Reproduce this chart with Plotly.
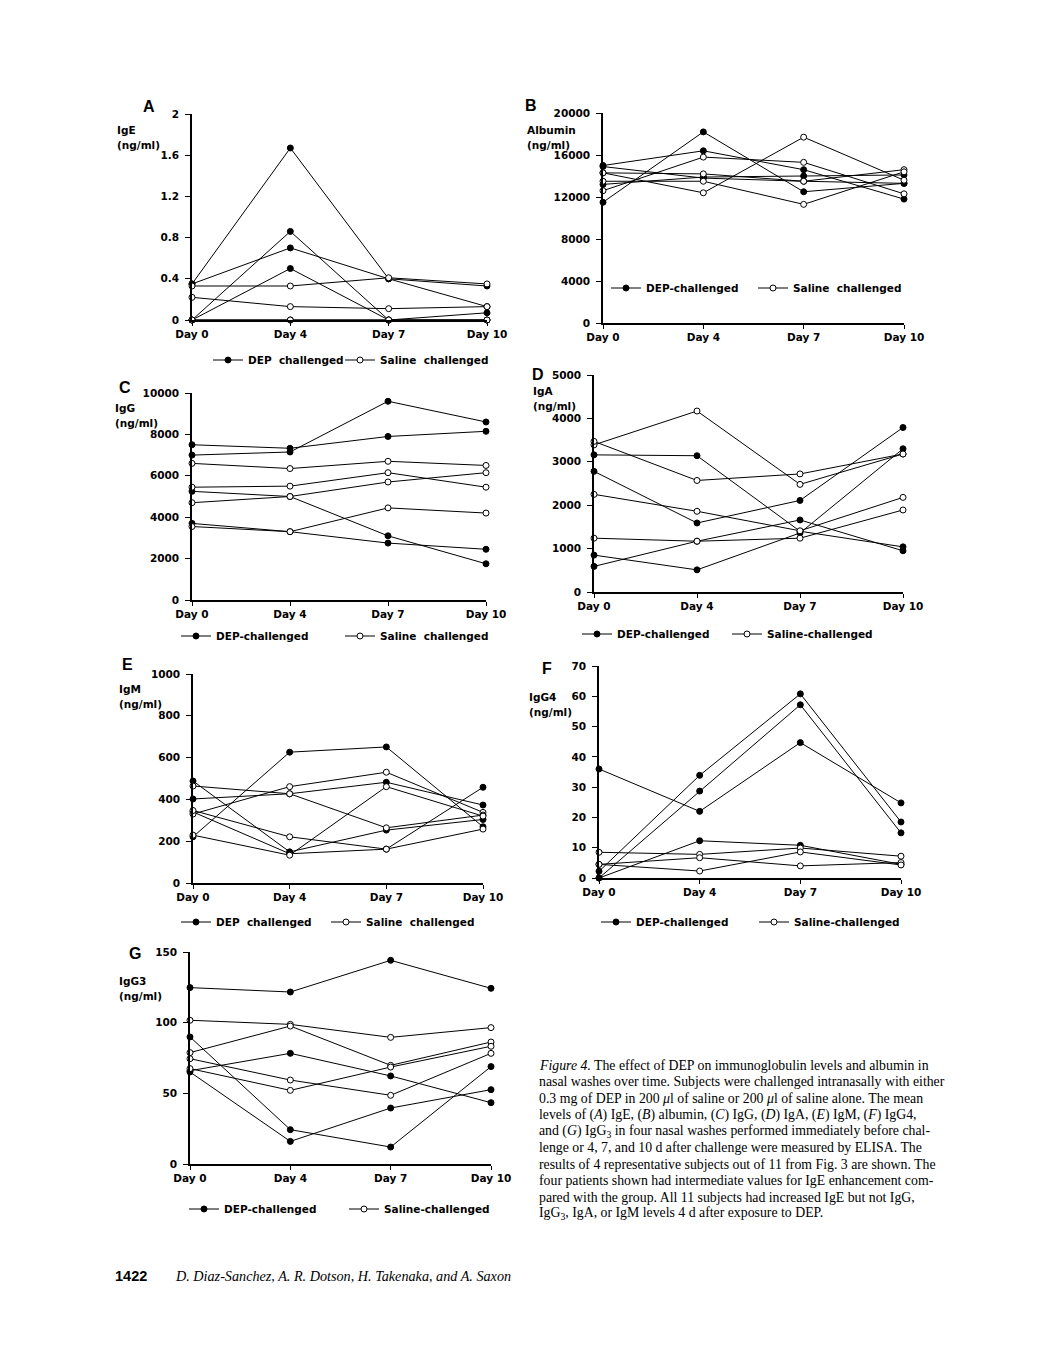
import plotly.graph_objects as go

W, H = 1046, 1369

DAYS = ["Day\u00a00", "Day\u00a04", "Day\u00a07", "Day\u00a010"]

# ---- Panel A: IgE (ng/ml)
IGE_DEP = [[0.35, 1.67, 0.40, 0.33], [0.35, 0.70, 0.40, 0.13],
           [0.0, 0.86, 0.0, 0.07], [0.0, 0.50, 0.0, 0.0]]
IGE_SAL = [[0.33, 0.33, 0.41, 0.35], [0.22, 0.13, 0.11, 0.13],
           [0.0, 0.0, 0.0, 0.0], [0.0, 0.0, 0.0, 0.0]]
IGE_TICKS = [0, 0.4, 0.8, 1.2, 1.6, 2]
IGE_TICKTEXT = ["0", "0.4", "0.8", "1.2", "1.6", "2"]

# ---- Panel B: Albumin (ng/ml)
ALB_DEP = [[11500, 18200, 12500, 13300], [15000, 16400, 14600, 11800],
           [13200, 13900, 14000, 14100], [14900, 13800, 13500, 13300]]
ALB_SAL = [[12600, 15800, 15300, 12300], [14300, 12400, 17700, 13600],
           [14300, 14200, 13500, 14600], [13500, 13500, 11300, 14400]]
ALB_TICKS = [0, 4000, 8000, 12000, 16000, 20000]

# ---- Panel C: IgG (ng/ml)
IGG_DEP = [[7500, 7330, 7900, 8150], [7000, 7150, 9600, 8600],
           [5250, 5000, 3100, 1750], [3700, 3300, 2750, 2450]]
IGG_SAL = [[6600, 6350, 6700, 6500], [5450, 5500, 6150, 5450],
           [4700, 5000, 5700, 6150], [3550, 3300, 4450, 4200]]
IGG_TICKS = [0, 2000, 4000, 6000, 8000, 10000]

# ---- Panel D: IgA (ng/ml)
IGA_DEP = [[2780, 1590, 2110, 3790], [850, 510, 1360, 3300],
           [3160, 3140, 1400, 1040], [590, 1170, 1660, 950]]
IGA_SAL = [[3390, 4170, 2480, 3180], [3470, 2570, 2720, 3180],
           [2250, 1860, 1410, 2180], [1240, 1170, 1240, 1890]]
IGA_TICKS = [0, 1000, 2000, 3000, 4000, 5000]

# ---- Panel E: IgM (ng/ml)
IGM_DEP = [[221, 626, 651, 269], [488, 149, 253, 304],
           [402, 427, 482, 373], [340, 140, 162, 458]]
IGM_SAL = [[330, 461, 530, 338], [464, 427, 264, 325],
           [347, 221, 162, 258], [229, 133, 461, 320]]
IGM_TICKS = [0, 200, 400, 600, 800, 1000]

# ---- Panel F: IgG4 (ng/ml)
IGG4_DEP = [[36, 22, 44.7, 24.8], [2.2, 33.9, 60.8, 18.5],
            [0, 28.7, 57.2, 14.9], [0, 12.3, 10.8, 4.5]]
IGG4_SAL = [[8.5, 7.8, 9.9, 7.2], [4.5, 6.7, 4.0, 5.1], [4.5, 2.3, 8.6, 4.3]]
IGG4_TICKS = [0, 10, 20, 30, 40, 50, 60, 70]

# ---- Panel G: IgG3 (ng/ml)
IGG3_DEP = [[124.8, 121.7, 144.1, 124.3], [89.9, 24.3, 12.0, 68.9],
            [65.1, 16.0, 39.6, 52.6], [66, 78.3, 62.3, 43.4]]
IGG3_SAL = [[101.7, 98.8, 89.6, 96.5], [78.8, 97.6, 69.8, 86.3],
            [74.5, 59.4, 48.6, 78.3], [67.5, 52.1, 68.6, 83.3]]
IGG3_TICKS = [0, 50, 100, 150]

CAPTION = [
    "<i>Figure 4.</i> The effect of DEP on immunoglobulin levels and albumin in",
    "nasal washes over time. Subjects were challenged intranasally with either",
    "0.3 mg of DEP in 200 <i>μ</i>l of saline or 200 <i>μ</i>l of saline alone. The mean",
    "levels of (<i>A</i>) IgE, (<i>B</i>) albumin, (<i>C</i>) IgG, (<i>D</i>) IgA, (<i>E</i>) IgM, (<i>F</i>) IgG4,",
    "and (<i>G</i>) IgG<sub>3</sub> in four nasal washes performed immediately before chal-",
    "lenge or 4, 7, and 10 d after challenge were measured by ELISA. The",
    "results of 4 representative subjects out of 11 from Fig. 3 are shown. The",
    "four patients shown had intermediate values for IgE enhancement com-",
    "pared with the group. All 11 subjects had increased IgE but not IgG,",
    "IgG<sub>3</sub>, IgA, or IgM levels 4 d after exposure to DEP.",
]

NB = "\u00a0"
PANELS = [
    dict(letter="A", title="IgE", dep=IGE_DEP, sal=IGE_SAL, ticks=IGE_TICKS,
         ticktext=IGE_TICKTEXT, ymax=2, box=(192, 487, 114, 320),
         lpos=(141, 107), tpos=(115, 130), leg=(248, 380, 360),
         names=("DEP" + NB * 2 + "challenged", "Saline" + NB * 2 + "challenged")),
    dict(letter="B", title="Albumin", dep=ALB_DEP, sal=ALB_SAL, ticks=ALB_TICKS,
         ticktext=None, ymax=20000, box=(603, 904, 113, 323),
         lpos=(523, 106), tpos=(525, 130), leg=(646, 793, 288),
         names=("DEP-challenged", "Saline" + NB * 2 + "challenged")),
    dict(letter="C", title="IgG", dep=IGG_DEP, sal=IGG_SAL, ticks=IGG_TICKS,
         ticktext=None, ymax=10000, box=(192, 486, 393, 600),
         lpos=(117, 387), tpos=(113, 408), leg=(216, 380, 636),
         names=("DEP-challenged", "Saline" + NB * 2 + "challenged")),
    dict(letter="D", title="IgA", dep=IGA_DEP, sal=IGA_SAL, ticks=IGA_TICKS,
         ticktext=None, ymax=5000, box=(594, 903, 375, 592),
         lpos=(530, 374), tpos=(531, 391), leg=(617, 767, 634),
         names=("DEP-challenged", "Saline-challenged")),
    dict(letter="E", title="IgM", dep=IGM_DEP, sal=IGM_SAL, ticks=IGM_TICKS,
         ticktext=None, ymax=1000, box=(193, 483, 674, 883),
         lpos=(120, 664), tpos=(117, 689), leg=(216, 366, 922),
         names=("DEP" + NB * 2 + "challenged", "Saline" + NB * 2 + "challenged")),
    dict(letter="F", title="IgG4", dep=IGG4_DEP, sal=IGG4_SAL, ticks=IGG4_TICKS,
         ticktext=None, ymax=70, box=(599, 901, 666, 878),
         lpos=(540, 668), tpos=(527, 697), leg=(636, 794, 922),
         names=("DEP-challenged", "Saline-challenged")),
    dict(letter="G", title="IgG3", dep=IGG3_DEP, sal=IGG3_SAL, ticks=IGG3_TICKS,
         ticktext=None, ymax=150, box=(190, 491, 952, 1164),
         lpos=(127, 953), tpos=(117, 981), leg=(224, 384, 1209),
         names=("DEP-challenged", "Saline-challenged")),
]

LABEL_FONT = dict(family="DejaVu Sans", size=10.5, color="black", weight="bold")


def px(x):
    return x / W


def py(y):
    return 1 - y / H


fig = go.Figure()
annotations = []
layout_extra = {}
leg_count = 0

for i, p in enumerate(PANELS):
    n = i + 1
    xa = "x" if n == 1 else f"x{n}"
    ya = "y" if n == 1 else f"y{n}"
    x0, x1, yt, yb = p["box"]
    tx_dep, tx_sal, ly_leg = p["leg"]
    leg_ids = []
    for tx in (tx_dep, tx_sal):
        leg_count += 1
        lid = "legend" if leg_count == 1 else f"legend{leg_count}"
        leg_ids.append(lid)
        layout_extra[lid] = dict(
            x=px(tx - 40), y=py(ly_leg), xref="paper", yref="paper",
            xanchor="left", yanchor="middle", orientation="h",
            font=LABEL_FONT, bgcolor="rgba(0,0,0,0)", borderwidth=0,
            itemwidth=30, itemclick=False, itemdoubleclick=False)

    for k, series in enumerate(p["dep"]):
        fig.add_trace(go.Scatter(
            x=DAYS, y=series, xaxis=xa, yaxis=ya, mode="lines+markers",
            line=dict(color="black", width=1),
            marker=dict(symbol="circle", size=6, color="black",
                        line=dict(color="black", width=1)),
            cliponaxis=False, name=p["names"][0], legend=leg_ids[0],
            legendgroup=f"dep{n}", showlegend=(k == 0)))
    for k, series in enumerate(p["sal"]):
        fig.add_trace(go.Scatter(
            x=DAYS, y=series, xaxis=xa, yaxis=ya, mode="lines+markers",
            line=dict(color="black", width=1),
            marker=dict(symbol="circle", size=6, color="white",
                        line=dict(color="black", width=1)),
            cliponaxis=False, name=p["names"][1], legend=leg_ids[1],
            legendgroup=f"sal{n}", showlegend=(k == 0)))

    axkey = "xaxis" if n == 1 else f"xaxis{n}"
    aykey = "yaxis" if n == 1 else f"yaxis{n}"
    layout_extra[axkey] = dict(
        domain=[px(x0), px(x1)], anchor=ya, type="category",
        categoryorder="array", categoryarray=DAYS, range=[0, 3],
        showline=True, linecolor="black", linewidth=1.5, showgrid=False,
        zeroline=False, ticks="outside", ticklen=4, tickwidth=1.2,
        tickcolor="black", tickfont=LABEL_FONT, fixedrange=True)
    yax = dict(
        domain=[py(yb), py(yt)], anchor=xa, range=[0, p["ymax"]],
        tickvals=p["ticks"], tickformat="d", showline=True,
        linecolor="black", linewidth=1.5, showgrid=False, zeroline=False,
        ticks="outside", ticklen=5, tickwidth=1.2, tickcolor="black",
        tickfont=LABEL_FONT, ticklabelstandoff=4, fixedrange=True)
    if p["ticktext"] is not None:
        yax["ticktext"] = p["ticktext"]
    layout_extra[aykey] = yax

    lx, ly = p["lpos"]
    annotations.append(dict(
        x=px(lx), y=py(ly), xref="paper", yref="paper", text=f"<b>{p['letter']}</b>",
        showarrow=False, xanchor="left", yanchor="middle",
        font=dict(family="Liberation Sans", size=16, color="black")))
    tx, ty = p["tpos"]
    annotations.append(dict(
        x=px(tx), y=py(ty), xref="paper", yref="paper", text=p["title"],
        showarrow=False, xanchor="left", yanchor="middle", font=LABEL_FONT))
    annotations.append(dict(
        x=px(tx), y=py(ty + 15), xref="paper", yref="paper", text="(ng/ml)",
        showarrow=False, xanchor="left", yanchor="middle", font=LABEL_FONT))

for j, line in enumerate(CAPTION):
    annotations.append(dict(
        x=px(537), y=py(1065 + 16.5 * j), xref="paper", yref="paper",
        text=line, showarrow=False, xanchor="left", yanchor="middle",
        font=dict(family="Liberation Serif", size=13.8, color="black")))

annotations.append(dict(
    x=px(113), y=py(1276), xref="paper", yref="paper", text="<b>1422</b>",
    showarrow=False, xanchor="left", yanchor="middle",
    font=dict(family="Liberation Sans", size=14.5, color="black")))
annotations.append(dict(
    x=px(173), y=py(1276), xref="paper", yref="paper",
    text="<i>D. Diaz-Sanchez, A. R. Dotson, H. Takenaka, and A. Saxon</i>",
    showarrow=False, xanchor="left", yanchor="middle",
    font=dict(family="Liberation Serif", size=14.2, color="black")))

fig.update_layout(
    width=W, height=H,
    margin=dict(l=0, r=0, t=0, b=0, pad=0, autoexpand=False),
    paper_bgcolor="white", plot_bgcolor="white",
    annotations=annotations, **layout_extra)

fig.write_html("out.html", include_plotlyjs=True,
               post_script="document.body.style.margin='0';",
               config={"displayModeBar": False})
